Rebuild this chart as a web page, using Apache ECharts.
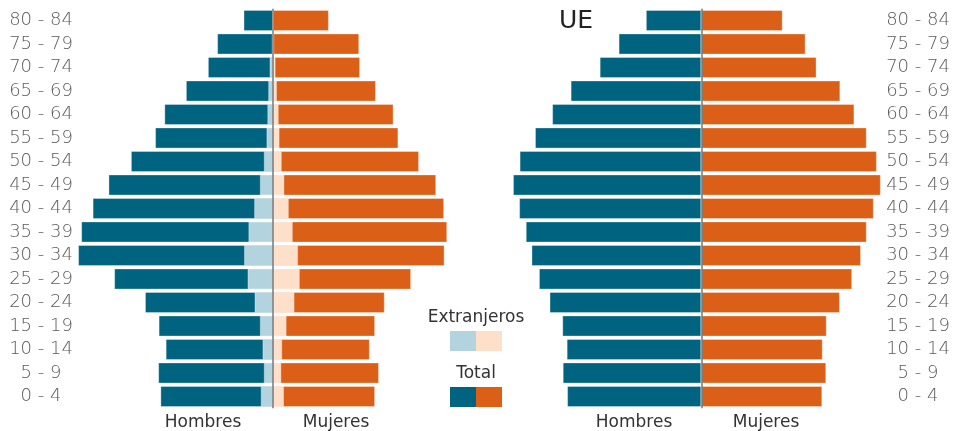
<!DOCTYPE html>
<html>
<head>
<meta charset="utf-8">
<script src="https://cdn.jsdelivr.net/npm/echarts@6/dist/echarts.min.js"></script>
<style>
  html, body { margin: 0; padding: 0; background: #fff; }
  #chart { width: 957px; height: 431px; }
</style>
</head>
<body>
<div id="chart"></div>
<script>
// grupos de edad, de abajo arriba
var ages = ['0 - 4', '5 - 9', '10 - 14', '15 - 19', '20 - 24', '25 - 29', '30 - 34', '35 - 39',
  '40 - 44', '45 - 49', '50 - 54', '55 - 59', '60 - 64', '65 - 69', '70 - 74', '75 - 79', '80 - 84'];

// España (% de la poblacion)
var esHombres = [2.56, 2.61, 2.44, 2.60, 2.91, 3.61, 4.43, 4.36, 4.10, 3.74, 3.23, 2.68, 2.47, 1.98, 1.48, 1.27, 0.67];
var esMujeres = [2.32, 2.41, 2.20, 2.32, 2.54, 3.14, 3.90, 3.96, 3.89, 3.71, 3.32, 2.85, 2.74, 2.34, 1.98, 1.96, 1.27];
var extHombres = [0.28, 0.21, 0.24, 0.30, 0.42, 0.58, 0.66, 0.56, 0.43, 0.30, 0.21, 0.15, 0.13, 0.11, 0.08, 0.03, 0.01];
var extMujeres = [0.25, 0.19, 0.21, 0.31, 0.49, 0.61, 0.57, 0.45, 0.36, 0.26, 0.20, 0.15, 0.13, 0.09, 0.06, 0.03, 0.01];

// UE
var ueHombres = [3.05, 3.15, 3.06, 3.16, 3.45, 3.69, 3.86, 3.99, 4.14, 4.28, 4.13, 3.78, 3.39, 2.97, 2.31, 1.88, 1.26];
var ueMujeres = [2.75, 2.84, 2.76, 2.85, 3.15, 3.43, 3.63, 3.76, 3.92, 4.08, 3.99, 3.76, 3.48, 3.16, 2.62, 2.37, 1.85];

var sexLabels = ['Hombres', 'Mujeres'];
var legendLabels = ['Extranjeros', 'Total'];
var ueTitle = 'UE';

var C_MALE = '#00637f', C_FEMALE = '#db5f17';
var C_MALE_EXT = '#b3d4df', C_FEMALE_EXT = '#fedfca';
var FONT = '"DejaVu Sans", sans-serif';

function neg(arr) { return arr.map(function (v) { return -v; }); }

var chart = echarts.init(document.getElementById('chart'));

function bar(name, data, color, idx, extra) {
  var s = {
    name: name, type: 'bar', data: data,
    xAxisIndex: idx, yAxisIndex: idx,
    barGap: '-100%', barCategoryGap: '10%',
    itemStyle: { color: color, borderColor: 'rgba(255,255,255,0.35)', borderWidth: 1 },
    silent: true, animation: false
  };
  return Object.assign(s, extra || {});
}

var centerLine = {
  symbol: 'none', silent: true, label: { show: false },
  lineStyle: { color: '#777', width: 1.5, type: 'solid' },
  data: [{ xAxis: 0 }]
};

function txt(text, x, y, size, color) {
  return {
    text: text, left: x, top: y, textAlign: 'center', padding: 0,
    textStyle: { fontFamily: FONT, fontWeight: 'normal', fontSize: size, color: color }
  };
}

var ageLabel = { color: '#5a5a5a', fontSize: 18, fontFamily: FONT, fontWeight: 200, align: 'center', padding: [3, 0, 0, 0] };

var option = {
  backgroundColor: '#fff',
  textStyle: { fontFamily: FONT },
  grid: [
    { left: 75, width: 396, top: 8.75, height: 399.5 },
    { left: 503.3, width: 396, top: 8.75, height: 399.5 }
  ],
  xAxis: [
    { gridIndex: 0, type: 'value', min: -4.5, max: 4.5, show: false },
    { gridIndex: 1, type: 'value', min: -4.5, max: 4.5, show: false }
  ],
  yAxis: [
    {
      gridIndex: 0, type: 'category', data: ages, position: 'left',
      axisLine: { show: false, onZero: false }, axisTick: { show: false },
      axisLabel: Object.assign({ margin: 34 }, ageLabel)
    },
    {
      gridIndex: 1, type: 'category', data: ages, position: 'right',
      axisLine: { show: false, onZero: false }, axisTick: { show: false },
      axisLabel: Object.assign({ margin: 18.7 }, ageLabel)
    }
  ],
  title: [
    txt(sexLabels[0], 203, 414, 17, '#333'),
    txt(sexLabels[1], 336, 414, 17, '#333'),
    txt(sexLabels[0], 634, 414, 17, '#333'),
    txt(sexLabels[1], 766, 414, 17, '#333'),
    txt(ueTitle, 576, 9, 25, '#222'),
    txt(legendLabels[0], 476, 309, 17, '#333'),
    txt(legendLabels[1], 476, 365, 17, '#333')
  ],
  graphic: [
    { type: 'rect', shape: { x: 450, y: 331, width: 26, height: 20 }, style: { fill: C_MALE_EXT } },
    { type: 'rect', shape: { x: 476, y: 331, width: 26, height: 20 }, style: { fill: C_FEMALE_EXT } },
    { type: 'rect', shape: { x: 450, y: 387, width: 26, height: 20 }, style: { fill: C_MALE } },
    { type: 'rect', shape: { x: 476, y: 387, width: 26, height: 20 }, style: { fill: C_FEMALE } }
  ],
  series: [
    bar('Hombres', neg(esHombres), C_MALE, 0),
    bar('Mujeres', esMujeres, C_FEMALE, 0),
    bar('Extranjeros hombres', neg(extHombres), C_MALE_EXT, 0),
    bar('Extranjeras mujeres', extMujeres, C_FEMALE_EXT, 0, { markLine: centerLine }),
    bar('UE hombres', neg(ueHombres), C_MALE, 1),
    bar('UE mujeres', ueMujeres, C_FEMALE, 1, { markLine: centerLine })
  ]
};

chart.setOption(option);
</script>
</body>
</html>
